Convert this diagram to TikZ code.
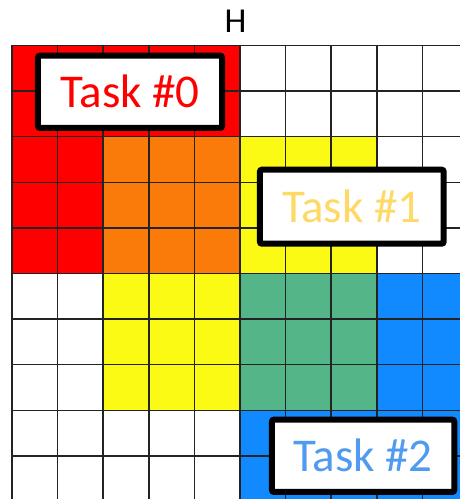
\documentclass[tikz,border=0pt]{standalone}
\usepackage{fontspec}
\setmainfont{Carlito}
\definecolor{cellred}{RGB}{255,0,0}
\definecolor{cellorange}{RGB}{250,122,10}
\definecolor{cellyellow}{RGB}{250,250,20}
\definecolor{cellgreen}{RGB}{84,182,136}
\definecolor{cellblue}{RGB}{18,138,255}
\definecolor{gridline}{RGB}{35,35,35}
\definecolor{taskzero}{RGB}{255,0,0}
\definecolor{taskone}{RGB}{255,217,102}
\definecolor{tasktwo}{RGB}{80,155,240}
\tikzset{
  taskbox/.style={draw=black, fill=white, line width=6bp, rounded corners=2bp,
    inner sep=0pt, font=\fontsize{47bp}{50bp}\selectfont},
  gridlines/.style={draw=gridline, line width=1.5bp}
}
\begin{document}
\begin{tikzpicture}[x=1bp, y=-1bp]
\useasboundingbox (0,0) rectangle (460,499);
\clip (0,0) rectangle (460,499);
\begin{scope}[xshift=12bp, yshift=-45.5bp, x=45.6bp, y=-45.6bp]
  % coloured blocks of the grid (cells in grid units)
  \fill[cellred] (0,0) rectangle (5,2);
  \fill[cellred] (0,2) rectangle (2,5);
  \fill[cellorange] (2,2) rectangle (5,5);
  \fill[cellyellow] (5,2) rectangle (8,5);
  \fill[cellyellow] (2,5) rectangle (5,8);
  \fill[cellgreen] (5,5) rectangle (8,8);
  \fill[cellblue] (8,5) rectangle (11,8);
  \fill[cellblue] (5,8) rectangle (11,11);
  % cell borders
  \foreach \i in {0,...,10} {
    \draw[gridlines] (\i,0) -- (\i,11);
    \draw[gridlines] (0,\i) -- (11,\i);
  }
\end{scope}
\node[font=\fontsize{35bp}{38bp}\selectfont] (h) at (235.5,21.7) {H};
\node[taskbox, text=taskzero, minimum width=184bp, minimum height=72.3bp] (t0) at (130,91.8) {Task \#0};
\node[taskbox, text=taskone, minimum width=183.7bp, minimum height=74bp] (t1) at (351.8,206.7) {Task \#1};
\node[taskbox, text=tasktwo, minimum width=182.3bp, minimum height=72.3bp] (t2) at (363.1,455.8) {Task \#2};
\end{tikzpicture}
\end{document}
